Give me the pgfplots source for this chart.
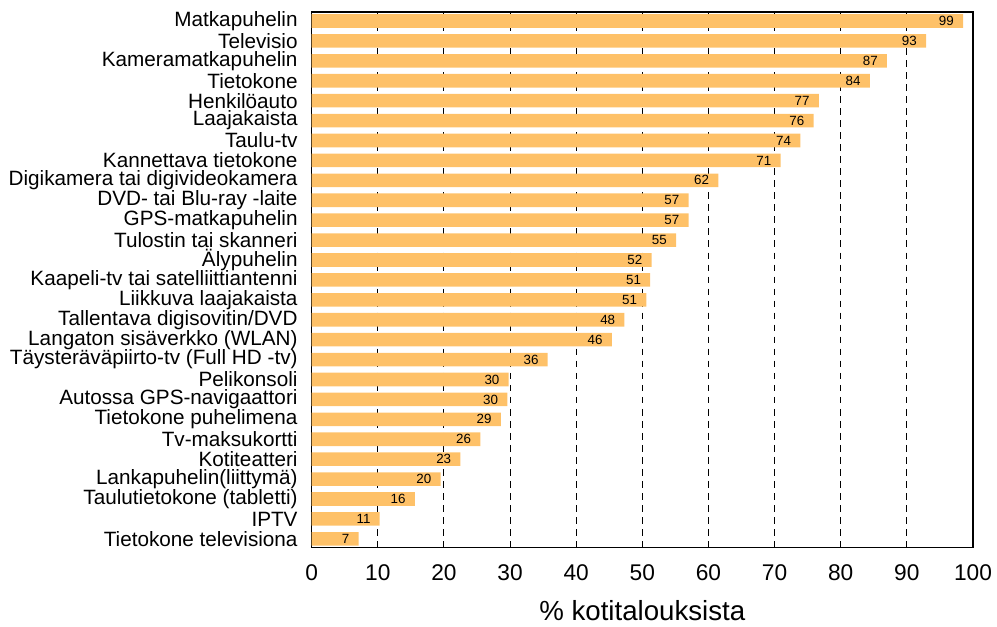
\documentclass[border=0pt]{standalone}
\usepackage{pgfplots}
\pgfplotsset{compat=1.18}
\usepackage{pgfplotstable}
\usepackage{fontspec}
\setmainfont{Liberation Sans}
\definecolor{barc}{RGB}{254,193,104}

\pgfplotstableread{
y x lab
0 98.5 99
1 92.9 93
2 87.0 87
3 84.4 84
4 76.7 77
5 75.9 76
6 73.9 74
7 70.9 71
8 61.5 62
9 57.0 57
10 57.0 57
11 55.1 55
12 51.4 52
13 51.2 51
14 50.6 51
15 47.3 48
16 45.4 46
17 35.7 36
18 29.8 30
19 29.6 30
20 28.6 29
21 25.5 26
22 22.5 23
23 19.5 20
24 15.6 16
25 10.3 11
26 7.1 7
}\datatable

\begin{document}
\begin{tikzpicture}
\useasboundingbox (-233.25pt,-59.25pt) rectangle (513pt,410pt);
\begin{axis}[
  at={(0,0)}, anchor=south west,
  scale only axis, width=495pt, height=401pt,
  xbar, bar width=0.68,
  y dir=reverse,
  xmin=0, xmax=100, ymin=-0.45, ymax=26.45,
  xtick={0,10,...,100},
  ytick={0,...,26},
  yticklabels={Matkapuhelin,Televisio,Kameramatkapuhelin,Tietokone,Henkilöauto,Laajakaista,Taulu-tv,Kannettava tietokone,Digikamera tai digivideokamera,DVD- tai Blu-ray -laite,GPS-matkapuhelin,Tulostin tai skanneri,Älypuhelin,Kaapeli-tv tai satelliittiantenni,Liikkuva laajakaista,Tallentava digisovitin/DVD,Langaton sisäverkko (WLAN),Täysteräväpiirto-tv (Full HD -tv),Pelikonsoli,Autossa GPS-navigaattori,Tietokone puhelimena,Tv-maksukortti,Kotiteatteri,Lankapuhelin(liittymä),Taulutietokone (tabletti),IPTV,Tietokone televisiona},
  major tick length=0pt,
  xmajorgrids,
  major grid style={black, dash pattern=on 5pt off 4pt, line width=0.6pt},
  axis line style={black, line width=0.9pt},
  /pgf/number format/assume math mode=true,
  xticklabel style={font=\fontsize{17}{17}\selectfont, yshift=-9pt},
  yticklabel style={font=\fontsize{15.5}{15.5}\selectfont, xshift=-7pt, inner ysep=0pt},
  xlabel={\% kotitalouksista},
  xlabel style={font=\fontsize{20.7}{21}\selectfont, yshift=-8pt},
  nodes near coords, point meta=explicit symbolic,
  every node near coord/.append style={anchor=east, xshift=-6.75pt, inner sep=0pt, font=\fontsize{10}{10}\selectfont, text=black},
]
\addplot[fill=barc, draw=none] table[x=x, y=y, meta=lab] {\datatable};
\end{axis}
\end{tikzpicture}
\end{document}
